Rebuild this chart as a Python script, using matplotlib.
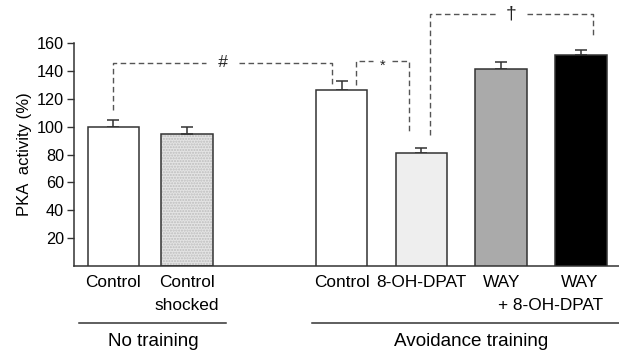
import matplotlib
matplotlib.use("Agg")
import matplotlib.pyplot as plt
import matplotlib.transforms as mtransforms

plt.rcParams['font.family'] = ['Liberation Sans', 'DejaVu Sans']
plt.rcParams['font.size'] = 11.5

# values
labels = ["Control", "Control\nshocked", "Control", "8-OH-DPAT", "WAY",
          "WAY\n+ 8-OH-DPAT"]
values = [100, 95, 126, 81, 141.5, 151.5]
errors = [5, 5, 6.5, 4, 5, 3.5]
fills = ['white', '#e4e4e4', 'white', '#eeeeee', '#aaaaaa', 'black']
positions = [0, 0.97, 3.0, 4.05, 5.1, 6.15]
yticks = [20, 40, 60, 80, 100, 120, 140, 160]

groups = ["No training", "Avoidance training"]
group_spans = [(-0.45, 1.48), (2.61, 6.7)]
group_text_x = [0.52, 4.7]

edge = '#333333'
dash = '#555555'

fig = plt.figure(figsize=(6.19, 3.5), dpi=100)
ax = fig.add_axes([0.1195, 0.24, 0.8805, 0.637])

width = 0.68
for i, (p, v, e, c) in enumerate(zip(positions, values, errors, fills)):
    if i == 1:
        # stippled fill
        ax.bar(p, v, width, color=c, edgecolor='#bdbdbd', hatch='......',
               linewidth=0, zorder=2)
        ax.bar(p, v, width, fill=False, edgecolor=edge, linewidth=1.1,
               zorder=3)
    else:
        ax.bar(p, v, width, color=c, edgecolor=edge, linewidth=1.1, zorder=3)
    ax.errorbar(p, v, yerr=[[0], [e]], fmt='none', ecolor=edge,
                elinewidth=1.1, capsize=4, capthick=1.1, zorder=2)

ax.set_xlim(-0.52, 6.65)
ax.set_ylim(0, 160)
ax.set_yticks(yticks)
ax.set_xticks([])
ax.tick_params(axis='y', direction='out', length=5, width=1, color=edge,
               pad=2, labelsize=11.7)
for s in ['top', 'right']:
    ax.spines[s].set_visible(False)
for s in ['left', 'bottom']:
    ax.spines[s].set_color(edge)
    ax.spines[s].set_linewidth(1.1)
ax.set_ylabel("PKA  activity (%)", fontsize=12, labelpad=4)

trans = mtransforms.blended_transform_factory(ax.transData, ax.transAxes)

# category labels under the bars, one text per line
line_y = [-0.076, -0.175]
for i, (p, lab) in enumerate(zip(positions, labels)):
    for j, part in enumerate(lab.split("\n")):
        dx = 0.0
        if i == 5:
            dx = -0.02 if j == 0 else -0.405
        ax.text(p + dx, line_y[j], part, transform=trans, ha='center',
                va='center', fontsize=12.4)

# group lines and labels
for g, (x0, x1), tx in zip(groups, group_spans, group_text_x):
    ax.plot([x0, x1], [-0.255, -0.255], transform=trans, color=edge,
            linewidth=1.1, clip_on=False)
    ax.text(tx, -0.3, g, transform=trans, ha='center', va='top',
            fontsize=13.6)


def bracket(x0, y0, x1, y1, ytop, sym, gap, sym_dy=0, size=11, **tkw):
    kw = dict(color=dash, linewidth=1, linestyle=(0, (4, 2.5)),
              clip_on=False, zorder=1)
    xm = (x0 + x1) / 2
    ax.plot([x0, x0, xm - gap], [y0, ytop, ytop], **kw)
    ax.plot([xm + gap, x1, x1], [ytop, ytop, y1], **kw)
    ax.text(xm, ytop + sym_dy, sym, ha='center', va='center',
            fontsize=size, color='#222222', **tkw)


# significance brackets
bracket(positions[0], 112, positions[2] - 0.13, 129, 146, "#", 0.22,
        size=12.5, style='italic')
bracket(positions[2] + 0.19, 130, positions[3] - 0.16, 95, 147, "*", 0.13,
        sym_dy=-3, size=10.5)
bracket(positions[3] + 0.11, 94, positions[5] + 0.16, 164, 180.5, "\u2020",
        0.2, size=14)

fig.savefig("out.png", dpi=100)
